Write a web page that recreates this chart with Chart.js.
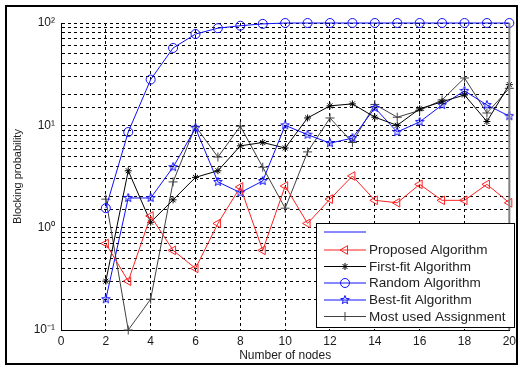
<!DOCTYPE html>
<html>
<head>
<meta charset="utf-8">
<script src="https://cdn.jsdelivr.net/npm/chart.js"></script>
<style>
  html, body { margin: 0; padding: 0; background: #fff; }
  #wrap { position: relative; width: 520px; height: 369px; }
</style>
</head>
<body>
<div id="wrap"><canvas id="chartCanvas" width="520" height="369"></canvas></div>
<script>
// Datos
const nodes = [2, 3, 4, 5, 6, 7, 8, 9, 10, 11, 12, 13, 14, 15, 16, 17, 18, 19, 20];
const proposed = [0.7, 0.3, 1.3, 0.6, 0.4, 1.1, 2.5, 0.6, 2.55, 1.1, 1.9, 3.2, 1.85, 1.75, 2.65, 1.85, 1.85, 2.65, 1.75];
const firstFit = [0.3, 3.6, 1.13, 1.87, 3.1, 3.6, 6.3, 6.8, 6.0, 11.8, 15.5, 16.2, 12.0, 10.0, 14.5, 17.0, 19.8, 10.9, 25];
const randomAlg = [1.55, 8.6, 28, 57, 78, 89, 94, 98, 100, 100, 100, 100, 100, 100, 100, 100, 100, 100, 100];
const bestFit = [0.2, 1.95, 1.95, 3.9, 9.4, 2.8, 2.2, 2.86, 10, 8.1, 6.7, 7.5, 14.8, 8.6, 10.8, 15.8, 21.7, 15.8, 12.3];
const mostUsed = [1.9, 0.1, 0.2, 2.8, 9.8, 4.9, 9.8, 3.9, 1.55, 5.5, 11.8, 6.8, 16, 12, 14, 17.7, 29, 13.2, 23];

const legendNames = ["", "Proposed Algorithm", "First-fit Algorithm", "Random Algorithm", "Best-fit Algorithm", "Most used Assignment"];
const yTickLabels = { "0.1": "10\u207B\u00B9", "1": "10\u2070", "10": "10\u00B9", "100": "10\u00B2" };

const BLUE = "#1010ff";
const RED = "#ff2020";
const BLACK = "#000000";
const GRAY = "#404040";

// Estrella de 5 puntas (Best-fit)
function makeStar(size, color) {
    const c = document.createElement("canvas");
    c.width = size;
    c.height = size;
    const g = c.getContext("2d");
    const cx = size / 2, cy = size / 2;
    const rOut = size / 2 - 0.5, rIn = rOut * 0.42;
    g.beginPath();
    for (let i = 0; i < 10; i++) {
        const r = i % 2 === 0 ? rOut : rIn;
        const a = -Math.PI / 2 + i * Math.PI / 5;
        const px = cx + r * Math.cos(a);
        const py = cy + r * Math.sin(a);
        if (i === 0) g.moveTo(px, py); else g.lineTo(px, py);
    }
    g.closePath();
    g.strokeStyle = color;
    g.lineWidth = 1;
    g.stroke();
    return c;
}
const starImg = makeStar(10, BLUE);

function toPoints(values) {
    return nodes.map((n, i) => ({ x: n, y: values[i] }));
}

function lineSet(label, values, color, pointStyle, radius, extra) {
    return Object.assign({
        label: label,
        data: toPoints(values),
        borderColor: color,
        backgroundColor: "rgba(0,0,0,0)",
        pointBorderColor: color,
        pointBackgroundColor: "rgba(0,0,0,0)",
        borderWidth: 1,
        pointBorderWidth: 1,
        pointStyle: pointStyle,
        pointRadius: radius,
        tension: 0,
        fill: false,
        clip: 12
    }, extra || {});
}

const datasets = [
    lineSet(legendNames[1], proposed, RED, "triangle", 5, { pointRotation: -90 }),
    lineSet(legendNames[2], firstFit, BLACK, "star", 3.5),
    lineSet(legendNames[3], randomAlg, BLUE, "circle", 4.5),
    lineSet(legendNames[4], bestFit, BLUE, starImg, 5),
    lineSet(legendNames[5], mostUsed, GRAY, "cross", 4.5)
];

// Marco, borde derecho y leyenda dibujados a mano
const framePlugin = {
    id: "framePlugin",
    afterDraw(chart) {
        const ctx = chart.ctx;
        const area = chart.chartArea;
        ctx.save();
        // borde derecho del area
        ctx.strokeStyle = "#808080";
        ctx.lineWidth = 2;
        ctx.beginPath();
        ctx.moveTo(area.right, area.top);
        ctx.lineTo(area.right, area.bottom);
        ctx.stroke();

        // marco exterior
        ctx.strokeStyle = "#000";
        ctx.lineWidth = 2;
        ctx.strokeRect(6, 6, 511, 358);

        // leyenda
        const lx = 316, ly = 223, lw = 198, lh = 104;
        ctx.fillStyle = "#fff";
        ctx.fillRect(lx, ly, lw, lh);
        ctx.strokeStyle = "#000";
        ctx.lineWidth = 1;
        ctx.strokeRect(lx + 0.5, ly + 0.5, lw, lh);

        const rowsY = [232, 250, 266.5, 283, 300, 316.5];
        const rowColors = [BLUE, RED, BLACK, BLUE, BLUE, GRAY];
        ctx.font = "13.5px Arial, 'Liberation Sans', sans-serif";
        ctx.textBaseline = "middle";
        ctx.textAlign = "left";
        for (let i = 0; i < rowsY.length; i++) {
            const y = rowsY[i];
            ctx.strokeStyle = rowColors[i];
            ctx.lineWidth = 1;
            ctx.beginPath();
            ctx.moveTo(324, y);
            ctx.lineTo(366, y);
            ctx.stroke();
            if (i > 0) {
                const ds = datasets[i - 1];
                ctx.strokeStyle = ds.pointBorderColor;
                ctx.fillStyle = "rgba(0,0,0,0)";
                ctx.lineWidth = 1;
                Chart.helpers.drawPoint(ctx, {
                    pointStyle: ds.pointStyle,
                    radius: ds.pointRadius,
                    rotation: ds.pointRotation || 0,
                    borderWidth: 1
                }, 345, y);
                ctx.fillStyle = "#222";
                ctx.fillText(legendNames[i], 369, y + 0.5);
            }
        }
        ctx.restore();
    }
};

new Chart(document.getElementById("chartCanvas"), {
    type: "line",
    data: { datasets: datasets },
    plugins: [framePlugin],
    options: {
        responsive: false,
        animation: false,
        devicePixelRatio: 1,
        layout: { padding: { left: 0, top: 23, right: 8, bottom: 0 } },
        plugins: {
            legend: { display: false },
            tooltip: { enabled: false }
        },
        scales: {
            x: {
                type: "linear",
                min: 0,
                max: 20,
                afterFit: (scale) => { scale.height = 39; },
                ticks: {
                    stepSize: 2,
                    padding: 4,
                    color: "#1a1a1a",
                    font: { family: "Arial, 'Liberation Sans', sans-serif", size: 12 }
                },
                grid: { color: "#000", lineWidth: 1, drawTicks: false },
                border: { display: true, color: "#000", width: 1, dash: [3, 3] },
                title: {
                    display: true,
                    text: "Number of nodes",
                    color: "#1a1a1a",
                    font: { family: "Arial, 'Liberation Sans', sans-serif", size: 12 },
                    padding: { top: 6, bottom: 6 }
                }
            },
            y: {
                type: "logarithmic",
                min: 0.1,
                max: 100,
                afterFit: (scale) => { scale.width = 61; },
                ticks: {
                    autoSkip: false,
                    padding: 6,
                    color: "#1a1a1a",
                    font: { family: "Arial, 'Liberation Sans', sans-serif", size: 12 },
                    callback: (value) => yTickLabels[String(value)] || ""
                },
                grid: { color: "#000", lineWidth: 1, drawTicks: false },
                border: { display: true, color: "#000", width: 1, dash: [3, 3] },
                title: {
                    display: true,
                    text: "Blocking probability",
                    color: "#1a1a1a",
                    font: { family: "Arial, 'Liberation Sans', sans-serif", size: 11 },
                    padding: { top: 11, bottom: 11 }
                }
            }
        }
    }
});
</script>
</body>
</html>
